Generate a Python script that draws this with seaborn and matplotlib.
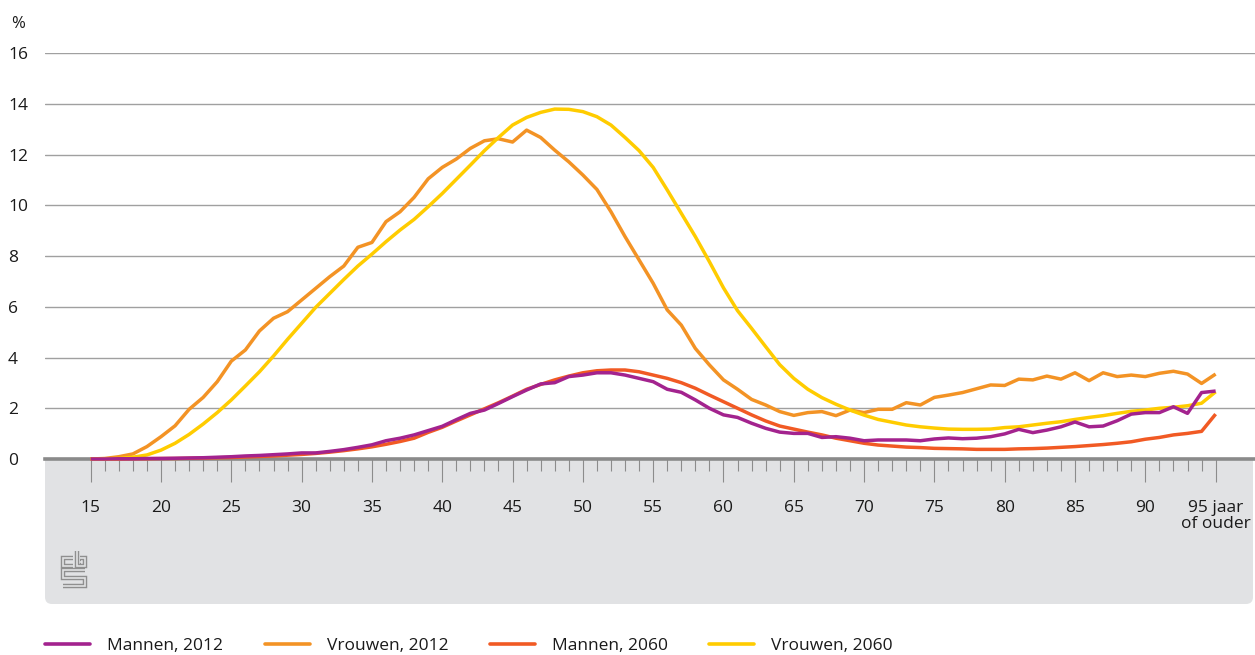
import numpy as np
import pandas as pd
import seaborn as sns
import matplotlib
matplotlib.use("Agg")
import matplotlib.pyplot as plt
from matplotlib.patches import FancyBboxPatch
from matplotlib.lines import Line2D
import matplotlib.transforms as mtransforms

# ---------------- data ----------------
ages = list(range(15, 96))

mannen_2012 = [0.0, 0.0, 0.01, 0.01, 0.02, 0.02, 0.03, 0.04, 0.05, 0.07,
               0.09, 0.12, 0.14, 0.17, 0.20, 0.24, 0.24, 0.30, 0.37, 0.46,
               0.56, 0.72, 0.82, 0.95, 1.12, 1.29, 1.55, 1.80, 1.93, 2.19,
               2.46, 2.72, 2.96, 3.01, 3.25, 3.31, 3.40, 3.40, 3.31, 3.18,
               3.05, 2.75, 2.63, 2.33, 2.00, 1.74, 1.64, 1.41, 1.21, 1.06,
               1.01, 1.01, 0.85, 0.88, 0.82, 0.72, 0.75, 0.75, 0.75, 0.72,
               0.79, 0.83, 0.80, 0.82, 0.88, 0.99, 1.17, 1.04, 1.14, 1.27,
               1.46, 1.27, 1.30, 1.51, 1.77, 1.83, 1.83, 2.06, 1.80, 2.62,
               2.68]

vrouwen_2012 = [0.0, 0.02, 0.09, 0.20, 0.49, 0.88, 1.31, 1.96, 2.43, 3.05,
                3.86, 4.30, 5.05, 5.55, 5.81, 6.27, 6.73, 7.19, 7.61, 8.35,
                8.54, 9.36, 9.75, 10.32, 11.05, 11.50, 11.83, 12.25, 12.55, 12.63,
                12.50, 12.97, 12.68, 12.18, 11.72, 11.20, 10.63, 9.75, 8.77, 7.85,
                6.93, 5.88, 5.28, 4.36, 3.71, 3.12, 2.75, 2.35, 2.13, 1.87,
                1.72, 1.83, 1.87, 1.71, 1.93, 1.83, 1.96, 1.96, 2.22, 2.13,
                2.43, 2.52, 2.62, 2.77, 2.92, 2.90, 3.15, 3.12, 3.27, 3.15,
                3.40, 3.09, 3.40, 3.25, 3.31, 3.25, 3.38, 3.46, 3.35, 2.98,
                3.35]

mannen_2060 = [0.0, 0.0, 0.0, 0.01, 0.01, 0.02, 0.02, 0.03, 0.04, 0.05,
               0.06, 0.08, 0.10, 0.12, 0.15, 0.18, 0.22, 0.27, 0.33, 0.40,
               0.48, 0.58, 0.69, 0.82, 1.05, 1.25, 1.50, 1.74, 1.98, 2.22,
               2.48, 2.75, 2.94, 3.12, 3.27, 3.40, 3.48, 3.51, 3.51, 3.44,
               3.31, 3.18, 3.01, 2.79, 2.52, 2.26, 2.00, 1.74, 1.50, 1.30,
               1.18, 1.06, 0.95, 0.82, 0.72, 0.62, 0.55, 0.51, 0.47, 0.45,
               0.42, 0.41, 0.40, 0.38, 0.38, 0.38, 0.40, 0.41, 0.43, 0.46,
               0.49, 0.53, 0.57, 0.62, 0.68, 0.78, 0.85, 0.95, 1.01, 1.09,
               1.77]

vrouwen_2060 = [0.0, 0.0, 0.02, 0.07, 0.16, 0.35, 0.62, 0.97, 1.38, 1.83,
                2.33, 2.88, 3.44, 4.06, 4.72, 5.35, 5.98, 6.53, 7.08, 7.61,
                8.08, 8.57, 9.03, 9.45, 9.95, 10.47, 11.03, 11.59, 12.16, 12.68,
                13.17, 13.47, 13.67, 13.80, 13.79, 13.70, 13.50, 13.17, 12.68, 12.16,
                11.50, 10.61, 9.69, 8.77, 7.78, 6.75, 5.85, 5.15, 4.43, 3.72,
                3.18, 2.75, 2.42, 2.16, 1.93, 1.73, 1.56, 1.45, 1.34, 1.27,
                1.22, 1.18, 1.17, 1.17, 1.18, 1.24, 1.27, 1.34, 1.41, 1.47,
                1.56, 1.64, 1.71, 1.80, 1.88, 1.93, 2.00, 2.04, 2.10, 2.20,
                2.65]

series_names = ["Mannen, 2012", "Vrouwen, 2012", "Mannen, 2060", "Vrouwen, 2060"]
series_values = [mannen_2012, vrouwen_2012, mannen_2060, vrouwen_2060]
series_colors = ["#a3238e", "#f39325", "#f15a24", "#ffcc00"]
draw_order = [1, 2, 3, 0]  # purple on top

x_ticks = list(range(15, 96, 5))
x_ticklabels = ["15", "20", "25", "30", "35", "40", "45", "50", "55", "60",
                "65", "70", "75", "80", "85", "90", "95 jaar\nof ouder"]
y_ticks = list(range(0, 17, 2))
y_unit = "%"

# ---------------- style ----------------
sns.set_theme(style="white")
plt.rcParams["font.family"] = ["Open Sans", "DejaVu Sans"]
plt.rcParams["text.color"] = "#1a1a1a"

W, H = 1255, 655
fig = plt.figure(figsize=(W / 100, H / 100), dpi=100)
fig.patch.set_facecolor("white")


def fx(px):
    return px / W


def fy(py):
    return 1 - py / H


ax_left, ax_right, ax_top, ax_bottom = 45, 1255, 53.3, 459
ax = fig.add_axes([fx(ax_left), fy(ax_bottom), fx(ax_right) - fx(ax_left),
                   fy(ax_top) - fy(ax_bottom)])
ax.set_facecolor("white")

# grey panel under the axis
pix = mtransforms.IdentityTransform()
panel = FancyBboxPatch((45, H - 604), 1208, 604 - 445, boxstyle="round,pad=0,rounding_size=7",
                       transform=pix, facecolor="#e1e2e4", edgecolor="none", zorder=-5)
fig.add_artist(panel)

df = pd.DataFrame({
    "age": ages * 4,
    "value": sum(series_values, []),
    "series": sum([[n] * len(ages) for n in series_names], []),
})

for z, i in enumerate(draw_order):
    sub = df[df["series"] == series_names[i]]
    sns.lineplot(data=sub, x="age", y="value", color=series_colors[i], lw=2.5,
                 ax=ax, zorder=3 + z, clip_on=False, legend=False,
                 solid_joinstyle="round", solid_capstyle="butt")

ax.set_xlim(11.75, 97.8)
ax.set_ylim(0, 16)
ax.set_xlabel("")
ax.set_ylabel("")

ax.set_yticks(y_ticks)
ax.set_yticklabels([str(v) for v in y_ticks])
ax.tick_params(axis="y", length=0, pad=26.6, labelsize=12.5, labelcolor="#1a1a1a")
for lab in ax.get_yticklabels():
    lab.set_horizontalalignment("left")

ax.set_xticks(x_ticks)
ax.set_xticklabels(x_ticklabels, linespacing=1.0)
ax.set_xticks(ages, minor=True)
ax.tick_params(axis="x", which="major", direction="out", length=16.5, width=0.8,
               color="#8c8c8c", pad=13, labelsize=12.5, labelcolor="#1a1a1a",
               bottom=True)
ax.tick_params(axis="x", which="minor", direction="out", length=8.6, width=0.8,
               color="#8c8c8c", bottom=True)

ax.grid(axis="y", color="#a0a0a0", lw=1.0)
ax.grid(axis="x", visible=False)
ax.set_axisbelow(True)
for s in ["top", "right", "left"]:
    ax.spines[s].set_visible(False)
ax.spines["bottom"].set_color("#8a8a8a")
ax.spines["bottom"].set_linewidth(2.6)
ax.spines["bottom"].set_zorder(2)

# unit label
fig.text(fx(11), fy(24), y_unit, fontsize=12, ha="left", va="center", color="#1a1a1a")

# CBS logo (simplified) in pixel coordinates
def logo_path(pts):
    xs = [p[0] for p in pts]
    ys = [H - p[1] for p in pts]
    for lw, c in ((3.2, "#8f8f8f"), (1.2, "#e1e2e4")):
        fig.add_artist(Line2D(xs, ys, transform=pix, lw=lw, color=c,
                              solid_joinstyle="miter", solid_capstyle="butt", zorder=1))

logo_path([(73, 557.5), (63, 557.5), (63, 565.5), (73, 565.5)])
logo_path([(76.5, 551), (76.5, 565.5), (85, 565.5), (85, 557.5), (79.5, 557.5)])
logo_path([(81, 561.5), (80, 561.5)])
logo_path([(85, 569.5), (63, 569.5), (63, 577.5), (85, 577.5), (85, 586), (63, 586)])

# legend: one entry per column
leg_x = [45, 265, 490, 709]
for i in range(4):
    h = Line2D([], [], color=series_colors[i], lw=2.6)
    lg = fig.legend(handles=[h], labels=[series_names[i]], loc="center left",
                    bbox_to_anchor=(fx(leg_x[i]), fy(646)), frameon=False,
                    fontsize=12.5, handlelength=2.6, handletextpad=0.95,
                    borderpad=0, borderaxespad=0)

fig.savefig("out.png", dpi=100)
